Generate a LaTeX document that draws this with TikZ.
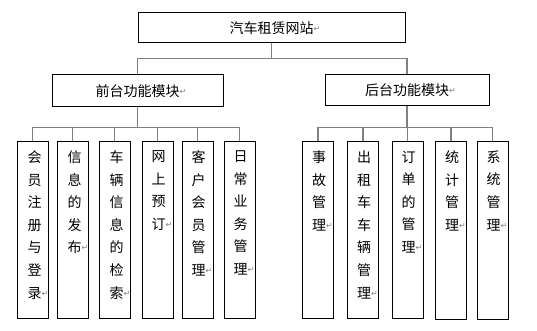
\documentclass[tikz,border=0pt]{standalone}
\usepackage{fontspec}
\setmainfont{Noto Sans CJK SC}
\newfontfamily\retfont{DejaVu Sans}
\newcommand{\ret}{\rlap{\raisebox{2pt}{\textcolor{gray}{\retfont\fontsize{8}{8}\selectfont ↵}}}}
\begin{document}
\begin{tikzpicture}[x=1pt,y=-1pt,line join=miter,
  box/.style={draw=black,line width=1pt,rectangle,inner sep=0pt,font=\fontsize{14}{14}\selectfont},
  colbox/.style={draw=black,line width=1pt,rectangle,inner sep=0pt,minimum width=31pt,minimum height=176pt},
  coltext/.style={anchor=north,inner sep=0pt,align=center,font=\fontsize{14}{22.6}\selectfont},
  link/.style={draw=gray,line width=1.6pt}]
  \useasboundingbox (0,0) rectangle (537,331);
  \node[box,minimum width=267pt,minimum height=30pt] (web) at (271.5,28) {汽车租赁网站\ret};
  \node[box,minimum width=171pt,minimum height=32pt] (front) at (137.5,91) {前台功能模块\ret};
  \node[box,minimum width=164pt,minimum height=31pt] (back) at (407,90.5) {后台功能模块\ret};
  % front modules
  \node[colbox] (f1) at (32.5,230) {};
  \node[colbox] (f2) at (72.5,230) {};
  \node[colbox] (f3) at (114.5,230) {};
  \node[colbox] (f4) at (157.5,230) {};
  \node[colbox] (f5) at (197.5,230) {};
  \node[colbox] (f6) at (239.5,230) {};
  \node[coltext] (f1t) at ([xshift=2pt,yshift=-9pt]f1.north) {会\\员\\注\\册\\与\\登\\录\ret};
  \node[coltext] (f2t) at ([xshift=2pt,yshift=-9pt]f2.north) {信\\息\\的\\发\\布\ret};
  \node[coltext] (f3t) at ([xshift=2pt,yshift=-9pt]f3.north) {车\\辆\\信\\息\\的\\检\\索\ret};
  \node[coltext] (f4t) at ([xshift=1pt,yshift=-9pt]f4.north) {网\\上\\预\\订\ret};
  \node[coltext] (f5t) at ([xshift=1pt,yshift=-9pt]f5.north) {客\\户\\会\\员\\管\\理\ret};
  \node[coltext] (f6t) at ([xshift=1pt,yshift=-9pt]f6.north) {日\\常\\业\\务\\管\\理\ret};
  % back modules
  \node[colbox] (b1) at (318,230) {};
  \node[colbox] (b2) at (363,230) {};
  \node[colbox] (b3) at (407.5,230) {};
  \node[colbox,minimum height=177pt] (b4) at (451,230.5) {};
  \node[colbox,minimum height=177pt] (b5) at (492.5,230.5) {};
  \node[coltext] (b1t) at ([xshift=1pt,yshift=-9pt]b1.north) {事\\故\\管\\理\ret};
  \node[coltext] (b2t) at ([xshift=1pt,yshift=-9pt]b2.north) {出\\租\\车\\车\\辆\\管\\理\ret};
  \node[coltext] (b3t) at ([xshift=1pt,yshift=-9pt]b3.north) {订\\单\\的\\管\\理\ret};
  \node[coltext] (b4t) at ([xshift=1pt,yshift=-9pt]b4.north) {统\\计\\管\\理\ret};
  \node[coltext] (b5t) at ([xshift=1pt,yshift=-9pt]b5.north) {系\\统\\管\\理\ret};
  % connectors
  \path (web.south) ++(0,15) coordinate (wbar);
  \path (front.south) ++(0,20) coordinate (fbar);
  \path (back.south) ++(0,21) coordinate (bbar);
  \draw[link] (web.south) -- (wbar);
  \draw[link] (front.north) |- (wbar) -| (back.north);
  \draw[link] (front.south) -- (fbar);
  \draw[link] (f1.north) |- (fbar) -| (f6.north);
  \foreach \i in {2,3,4,5}
    \draw[link] (f\i.north) -- (f\i.north |- fbar);
  \draw[link] (back.south) -- (bbar);
  \draw[link] (b1.north) |- (bbar) -| (b5.north);
  \foreach \i in {2,3,4}
    \draw[link] (b\i.north) -- (b\i.north |- bbar);
\end{tikzpicture}
\end{document}
